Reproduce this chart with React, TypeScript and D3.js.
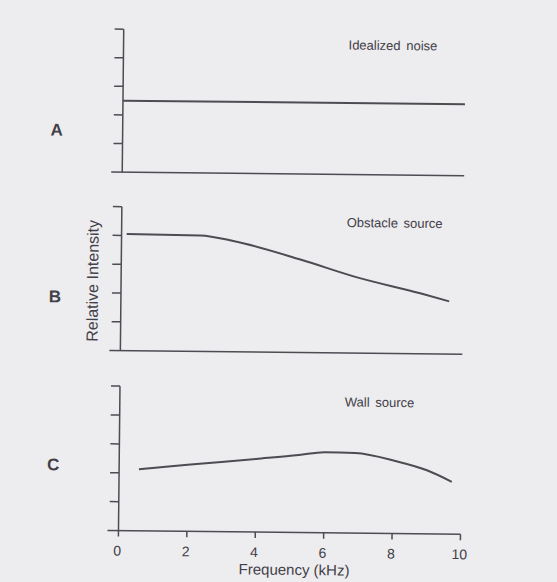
import React from "react";
import * as d3 from "d3";

// frequency axis (kHz) and relative intensity steps
const freqTicks = [0, 2, 4, 6, 8, 10];
const levelTicks = [0, 1, 2, 3, 4, 5];

// A - idealized noise
const noiseFreq = [0, 10];
const noiseLevel = [2.5, 2.5];

// B - obstacle source
const obstacleFreq = [0.15, 2.3, 3.3, 5.26, 6.9, 8.75, 9.6];
const obstacleLevel = [4.05, 4.03, 3.84, 3.22, 2.63, 2.1, 1.83];

// C - wall source
const wallFreq = [0.58, 2, 4, 5.25, 6, 6.9, 8.1, 9, 9.73];
const wallLevel = [2.13, 2.3, 2.53, 2.68, 2.79, 2.77, 2.5, 2.2, 1.81];

const panelLetters = ["A", "B", "C"];
const panelTitles = ["Idealized noise", "Obstacle source", "Wall source"];

const W = 557;
const H = 582;
const ink = "#4e4c53";
const textInk = "#424047";
const font = "'Liberation Sans', Arial, Helvetica, sans-serif";

const x = d3.scaleLinear().domain([0, 10]).range([121, 463]);

const layout = [
  { top: 31, bottom: 174, letterY: 138 },
  { top: 208.5, bottom: 352.5, letterY: 305 },
  { top: 388, bottom: 532.5, letterY: 473 },
];

const series = [
  { freq: noiseFreq, level: noiseLevel },
  { freq: obstacleFreq, level: obstacleLevel },
  { freq: wallFreq, level: wallLevel },
];

function Panel({ i }: { i: number }) {
  const { top, bottom, letterY } = layout[i];
  const y = d3.scaleLinear().domain([0, 5]).range([bottom, top]);
  const pts = series[i].freq.map((f, k) => [f, series[i].level[k]] as [number, number]);
  const line = d3
    .line<[number, number]>()
    .x((d) => x(d[0]))
    .y((d) => y(d[1]))
    .curve(d3.curveMonotoneX);
  const x0 = x(0);
  const isLast = i === layout.length - 1;

  return (
    <g>
      {/* y axis */}
      <line x1={x0} x2={x0} y1={y(5)} y2={isLast ? y(0) + 6 : y(0)} stroke={ink} strokeWidth={1.5} />
      {levelTicks
        .filter((t) => t > 0)
        .map((t) => (
          <line key={t} x1={x0 - 9} x2={x0} y1={y(t)} y2={y(t)} stroke={ink} strokeWidth={1.5} />
        ))}
      {/* baseline */}
      <line x1={x0 - 11} x2={x(10)} y1={y(0)} y2={y(0)} stroke={ink} strokeWidth={1.5} />
      {/* curve */}
      <path d={line(pts) || ""} fill="none" stroke={ink} strokeWidth={2} />
      <text
        x={346}
        y={y(5) + 18}
        fontFamily={font}
        fontSize={13}
        wordSpacing={2}
        fill={textInk}
      >
        {panelTitles[i]}
      </text>
      <text
        x={55}
        y={letterY}
        textAnchor="middle"
        fontFamily={font}
        fontWeight="bold"
        fontSize={17}
        fill={textInk}
      >
        {panelLetters[i]}
      </text>
      {isLast &&
        freqTicks.map((t) => (
          <g key={t}>
            {t > 0 && <line x1={x(t)} x2={x(t)} y1={y(0)} y2={y(0) + 6} stroke={ink} strokeWidth={1.5} />}
            <text
              x={x(t) - 1}
              y={y(0) + 25}
              textAnchor="middle"
              fontFamily={font}
              fontSize={14}
              fill={textInk}
            >
              {t}
            </text>
          </g>
        ))}
    </g>
  );
}

export default function App() {
  return (
    <svg width={W} height={H} style={{ position: "absolute", left: 0, top: 0, background: "#edecef" }}>
      <rect width={W} height={H} fill="#edecef" />
      <g transform="rotate(0.6, 300, 290)">
        {layout.map((_, i) => (
          <Panel key={i} i={i} />
        ))}
        <text
          transform="translate(98, 283) rotate(-90)"
          textAnchor="middle"
          fontFamily={font}
          fontSize={16}
          fill={textInk}
        >
          Relative Intensity
        </text>
        <text
          x={297}
          y={575}
          textAnchor="middle"
          fontFamily={font}
          fontSize={15}
          fill={textInk}
        >
          Frequency (kHz)
        </text>
      </g>
    </svg>
  );
}
